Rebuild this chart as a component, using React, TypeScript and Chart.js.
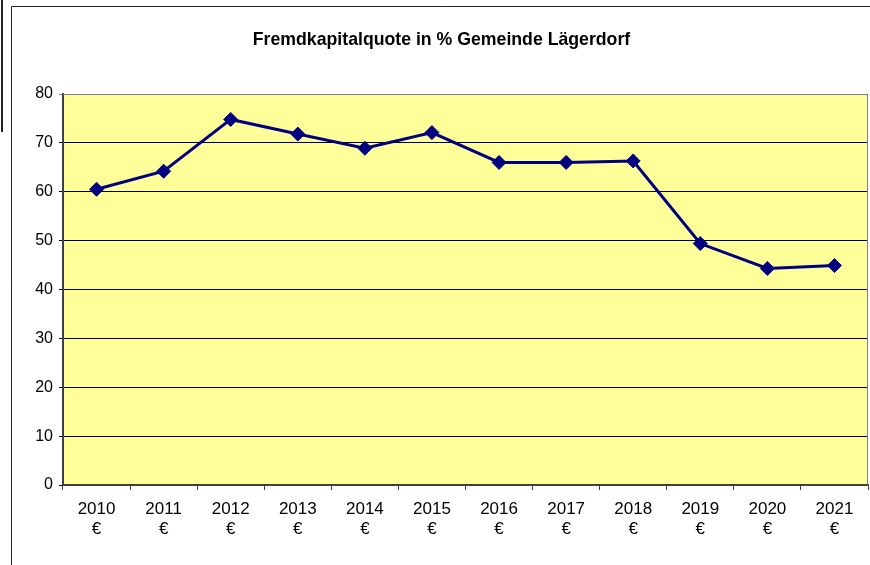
import React, { useEffect, useRef } from "react";
import { Chart, registerables } from "chart.js";

Chart.register(...registerables);

const TITLE = "Fremdkapitalquote in % Gemeinde Lägerdorf";
const YEARS = ["2010", "2011", "2012", "2013", "2014", "2015", "2016", "2017", "2018", "2019", "2020", "2021"];
const UNIT = "€";
const QUOTE = [60.5, 64.2, 74.8, 71.8, 68.9, 72.1, 66.0, 66.0, 66.3, 49.4, 44.3, 44.9];
const Y_MIN = 0;
const Y_MAX = 80;
const Y_STEP = 10;

const FONT = "'Liberation Sans', Arial, sans-serif";

const framePlugin = {
  id: "frame",
  beforeDraw(chart: any) {
    const { ctx, chartArea } = chart;
    ctx.save();
    ctx.fillStyle = "#ffffff";
    ctx.fillRect(0, 0, chart.width, chart.height);
    ctx.strokeStyle = "#222222";
    ctx.lineWidth = 1;
    ctx.beginPath();
    ctx.moveTo(11.5, chart.height);
    ctx.lineTo(11.5, 6.5);
    ctx.lineTo(chart.width, 6.5);
    ctx.stroke();
    ctx.lineWidth = 2;
    ctx.beginPath();
    ctx.moveTo(2, 0);
    ctx.lineTo(2, 132);
    ctx.stroke();
    ctx.fillStyle = "#FFFF99";
    ctx.fillRect(chartArea.left, chartArea.top, chartArea.right - chartArea.left, chartArea.bottom - chartArea.top);
    ctx.restore();
  },
  afterDraw(chart: any) {
    const { ctx, chartArea } = chart;
    ctx.save();
    ctx.strokeStyle = "#808080";
    ctx.lineWidth = 1;
    ctx.beginPath();
    ctx.moveTo(chartArea.left, chartArea.top + 0.5);
    ctx.lineTo(chartArea.right - 0.5, chartArea.top + 0.5);
    ctx.lineTo(chartArea.right - 0.5, chartArea.bottom);
    ctx.stroke();
    ctx.fillStyle = "#000000";
    ctx.font = `bold 17.7px ${FONT}`;
    ctx.textAlign = "center";
    ctx.textBaseline = "middle";
    ctx.fillText(TITLE, 441.5, 40);
    ctx.restore();
  },
};

export default function App() {
  const ref = useRef<HTMLCanvasElement>(null);
  useEffect(() => {
    const canvas = ref.current;
    if (!canvas) return;
    const chart = new Chart(canvas, {
      type: "line",
      data: {
        labels: YEARS.map((y) => [y, UNIT]),
        datasets: [
          {
            data: QUOTE,
            borderColor: "#000080",
            backgroundColor: "#000080",
            borderWidth: 3,
            pointStyle: "rectRot",
            pointRadius: 7,
            pointBorderWidth: 1,
            pointBackgroundColor: "#000080",
            pointBorderColor: "#000080",
            tension: 0,
            fill: false,
          },
        ],
      },
      options: {
        animation: false,
        responsive: false,
        maintainAspectRatio: false,
        layout: { autoPadding: false, padding: { top: 94, right: 2, left: 0, bottom: 0 } },
        plugins: {
          legend: { display: false },
          title: { display: false },
          tooltip: { enabled: false },
        },
        scales: {
          x: {
            type: "category",
            offset: true,
            grid: {
              offset: true,
              drawOnChartArea: false,
              drawTicks: true,
              tickLength: 5,
              color: "#404040",
            },
            border: { display: true, color: "#404040", width: 2 },
            ticks: {
              color: "#000000",
              font: { family: FONT, size: 17, lineHeight: 20 / 17 },
              padding: 9,
              maxRotation: 0,
              autoSkip: false,
            },
            afterFit(scale: any) {
              scale.height = 80;
              scale.paddingLeft = 0;
              scale.paddingRight = 0;
            },
          },
          y: {
            min: Y_MIN,
            max: Y_MAX,
            grid: {
              drawOnChartArea: true,
              drawTicks: true,
              tickLength: 4,
              color: (c: any) => (c.tick && c.tick.value === Y_MAX ? "#808080" : "#000000"),
              lineWidth: 1,
            },
            border: { display: true, color: "#404040", width: 2 },
            ticks: {
              stepSize: Y_STEP,
              color: "#000000",
              font: { family: FONT, size: 16 },
              padding: 6,
            },
            afterFit(scale: any) {
              scale.width = 63;
              scale.paddingTop = 0;
              scale.paddingBottom = 0;
            },
          },
        },
      },
      plugins: [framePlugin],
    });
    return () => chart.destroy();
  }, []);
  return (
    <div style={{ position: "fixed", left: 0, top: 0, width: 870, height: 565 }}>
      <canvas ref={ref} width={870} height={565} style={{ display: "block", width: 870, height: 565 }} />
    </div>
  );
}
